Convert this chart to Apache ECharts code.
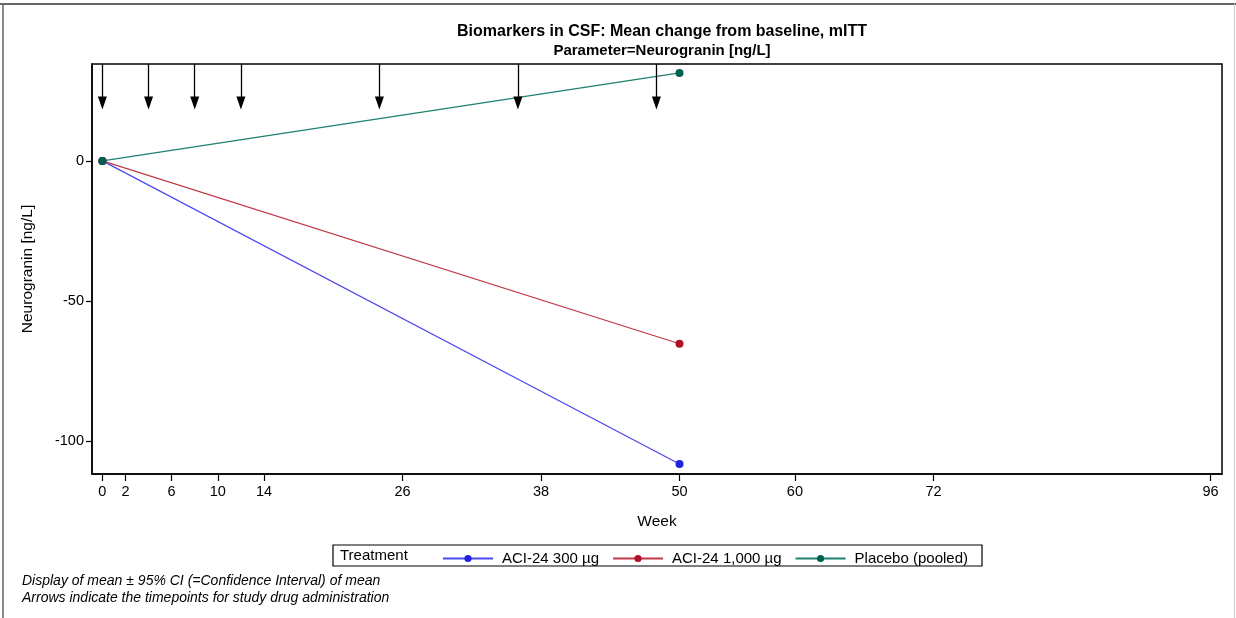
<!DOCTYPE html>
<html>
<head>
<meta charset="utf-8">
<script src="https://cdn.jsdelivr.net/npm/echarts@6/dist/echarts.min.js"></script>
<style>
  html, body { margin: 0; padding: 0; background: #fff; }
  #chart { width: 1236px; height: 618px; }
</style>
</head>
<body>
<div id="chart"></div>
<script>
// data
const weeks = [0, 50];
const aci300 = [0, -108.2];
const aci1000 = [0, -65.3];
const placebo = [0, 31.4];
const doseWeeks = [0, 4, 8, 12, 24, 36, 48];
const xTicks = [0, 2, 6, 10, 14, 26, 38, 50, 60, 72, 96];
const yTicks = [-100, -50, 0];

const font = 'Liberation Sans, Arial, sans-serif';
const yMax = 34.6;
const arrowTip = 20.7;

const chart = echarts.init(document.getElementById('chart'));

const toPairs = (ys) => weeks.map((w, i) => [w, ys[i]]);

const option = {
    animation: false,
    textStyle: { fontFamily: font, color: '#000' },
    title: {
        text: 'Biomarkers in CSF: Mean change from baseline, mITT',
        subtext: 'Parameter=Neurogranin [ng/L]',
        left: 657,
        textAlign: 'center',
        top: 19,
        itemGap: 3,
        textStyle: { fontSize: 16, fontWeight: 'bold', color: '#000', fontFamily: font },
        subtextStyle: { fontSize: 15, fontWeight: 'bold', color: '#000', fontFamily: font }
    },
    grid: {
        left: 92, right: 14, top: 64, bottom: 144,
        show: true, borderColor: '#000', borderWidth: 1.5
    },
    legend: {
        left: 437,
        top: 546,
        itemWidth: 50,
        itemHeight: 9,
        itemGap: 13,
        textStyle: { fontSize: 15, color: '#000', fontFamily: font, padding: [0, 0, 0, 4] },
        data: ['ACI-24 300 µg', 'ACI-24 1,000 µg', 'Placebo (pooled)']
    },
    xAxis: {
        type: 'value',
        min: -0.9,
        max: 97,
        name: 'Week',
        nameLocation: 'middle',
        nameGap: 40,
        nameTextStyle: { fontSize: 15.5, color: '#000' },
        splitLine: { show: false },
        axisLine: { onZero: false, lineStyle: { color: '#000', width: 1.5 } },
        axisTick: { show: true, inside: false, length: 7, customValues: xTicks, lineStyle: { color: '#000', width: 1.2 } },
        axisLabel: { customValues: xTicks, fontSize: 14.5, color: '#000', margin: 10 }
    },
    yAxis: {
        type: 'value',
        min: -111.8,
        max: yMax,
        name: 'Neurogranin [ng/L]',
        nameLocation: 'middle',
        nameGap: 56,
        nameTextStyle: { fontSize: 15.5, color: '#000' },
        splitLine: { show: false },
        axisLine: { show: true, onZero: false, lineStyle: { color: '#000', width: 1.5 } },
        axisTick: { show: true, length: 6, customValues: yTicks, lineStyle: { color: '#000', width: 1.2 } },
        axisLabel: { customValues: yTicks, fontSize: 14.5, color: '#000', margin: 8 }
    },
    series: [
        {
            name: 'ACI-24 300 µg',
            type: 'line',
            data: toPairs(aci300),
            symbol: 'circle',
            symbolSize: 8,
            lineStyle: { color: '#4A4AEE', width: 1.2 },
            itemStyle: { color: '#2222E0' }
        },
        {
            name: 'ACI-24 1,000 µg',
            type: 'line',
            data: toPairs(aci1000),
            symbol: 'circle',
            symbolSize: 8,
            lineStyle: { color: '#C03848', width: 1.2 },
            itemStyle: { color: '#B01025' }
        },
        {
            name: 'Placebo (pooled)',
            type: 'line',
            data: toPairs(placebo),
            symbol: 'circle',
            symbolSize: 8,
            lineStyle: { color: '#1F8070', width: 1.2 },
            itemStyle: { color: '#00604F' }
        },
        {
            // dosing arrows
            name: 'dose',
            type: 'line',
            data: [],
            silent: true,
            markLine: {
                silent: true,
                symbol: ['none', 'path://M0,0 L10,0 L5,14 Z'],
                symbolSize: [9, 13],
                symbolRotate: 0,
                label: { show: false },
                lineStyle: { color: '#000', width: 1.3, type: 'solid' },
                data: doseWeeks.map(w => [{ coord: [w, yMax] }, { coord: [w, arrowTip] }])
            }
        }
    ],
    graphic: [
        { type: 'line', shape: { x1: 0, y1: 4, x2: 1236, y2: 4 }, style: { stroke: '#666', lineWidth: 2 } },
        { type: 'line', shape: { x1: 3, y1: 4, x2: 3, y2: 618 }, style: { stroke: '#666', lineWidth: 1.5 } },
        { type: 'line', shape: { x1: 1234.5, y1: 4, x2: 1234.5, y2: 618 }, style: { stroke: '#ccc', lineWidth: 1 } },
        { type: 'rect', shape: { x: 333, y: 545, width: 649, height: 21 }, style: { fill: 'none', stroke: '#000', lineWidth: 1.2 } },
        { type: 'text', left: 340, top: 548.5, style: { text: 'Treatment', font: '15px ' + font, fill: '#000' } },
        { type: 'text', left: 22, top: 574, style: { text: 'Display of mean ± 95% CI (=Confidence Interval) of mean', font: 'italic 14px ' + font, fill: '#000' } },
        { type: 'text', left: 22, top: 591, style: { text: 'Arrows indicate the timepoints for study drug administration', font: 'italic 14px ' + font, fill: '#000' } }
    ]
};

chart.setOption(option);
</script>
</body>
</html>
